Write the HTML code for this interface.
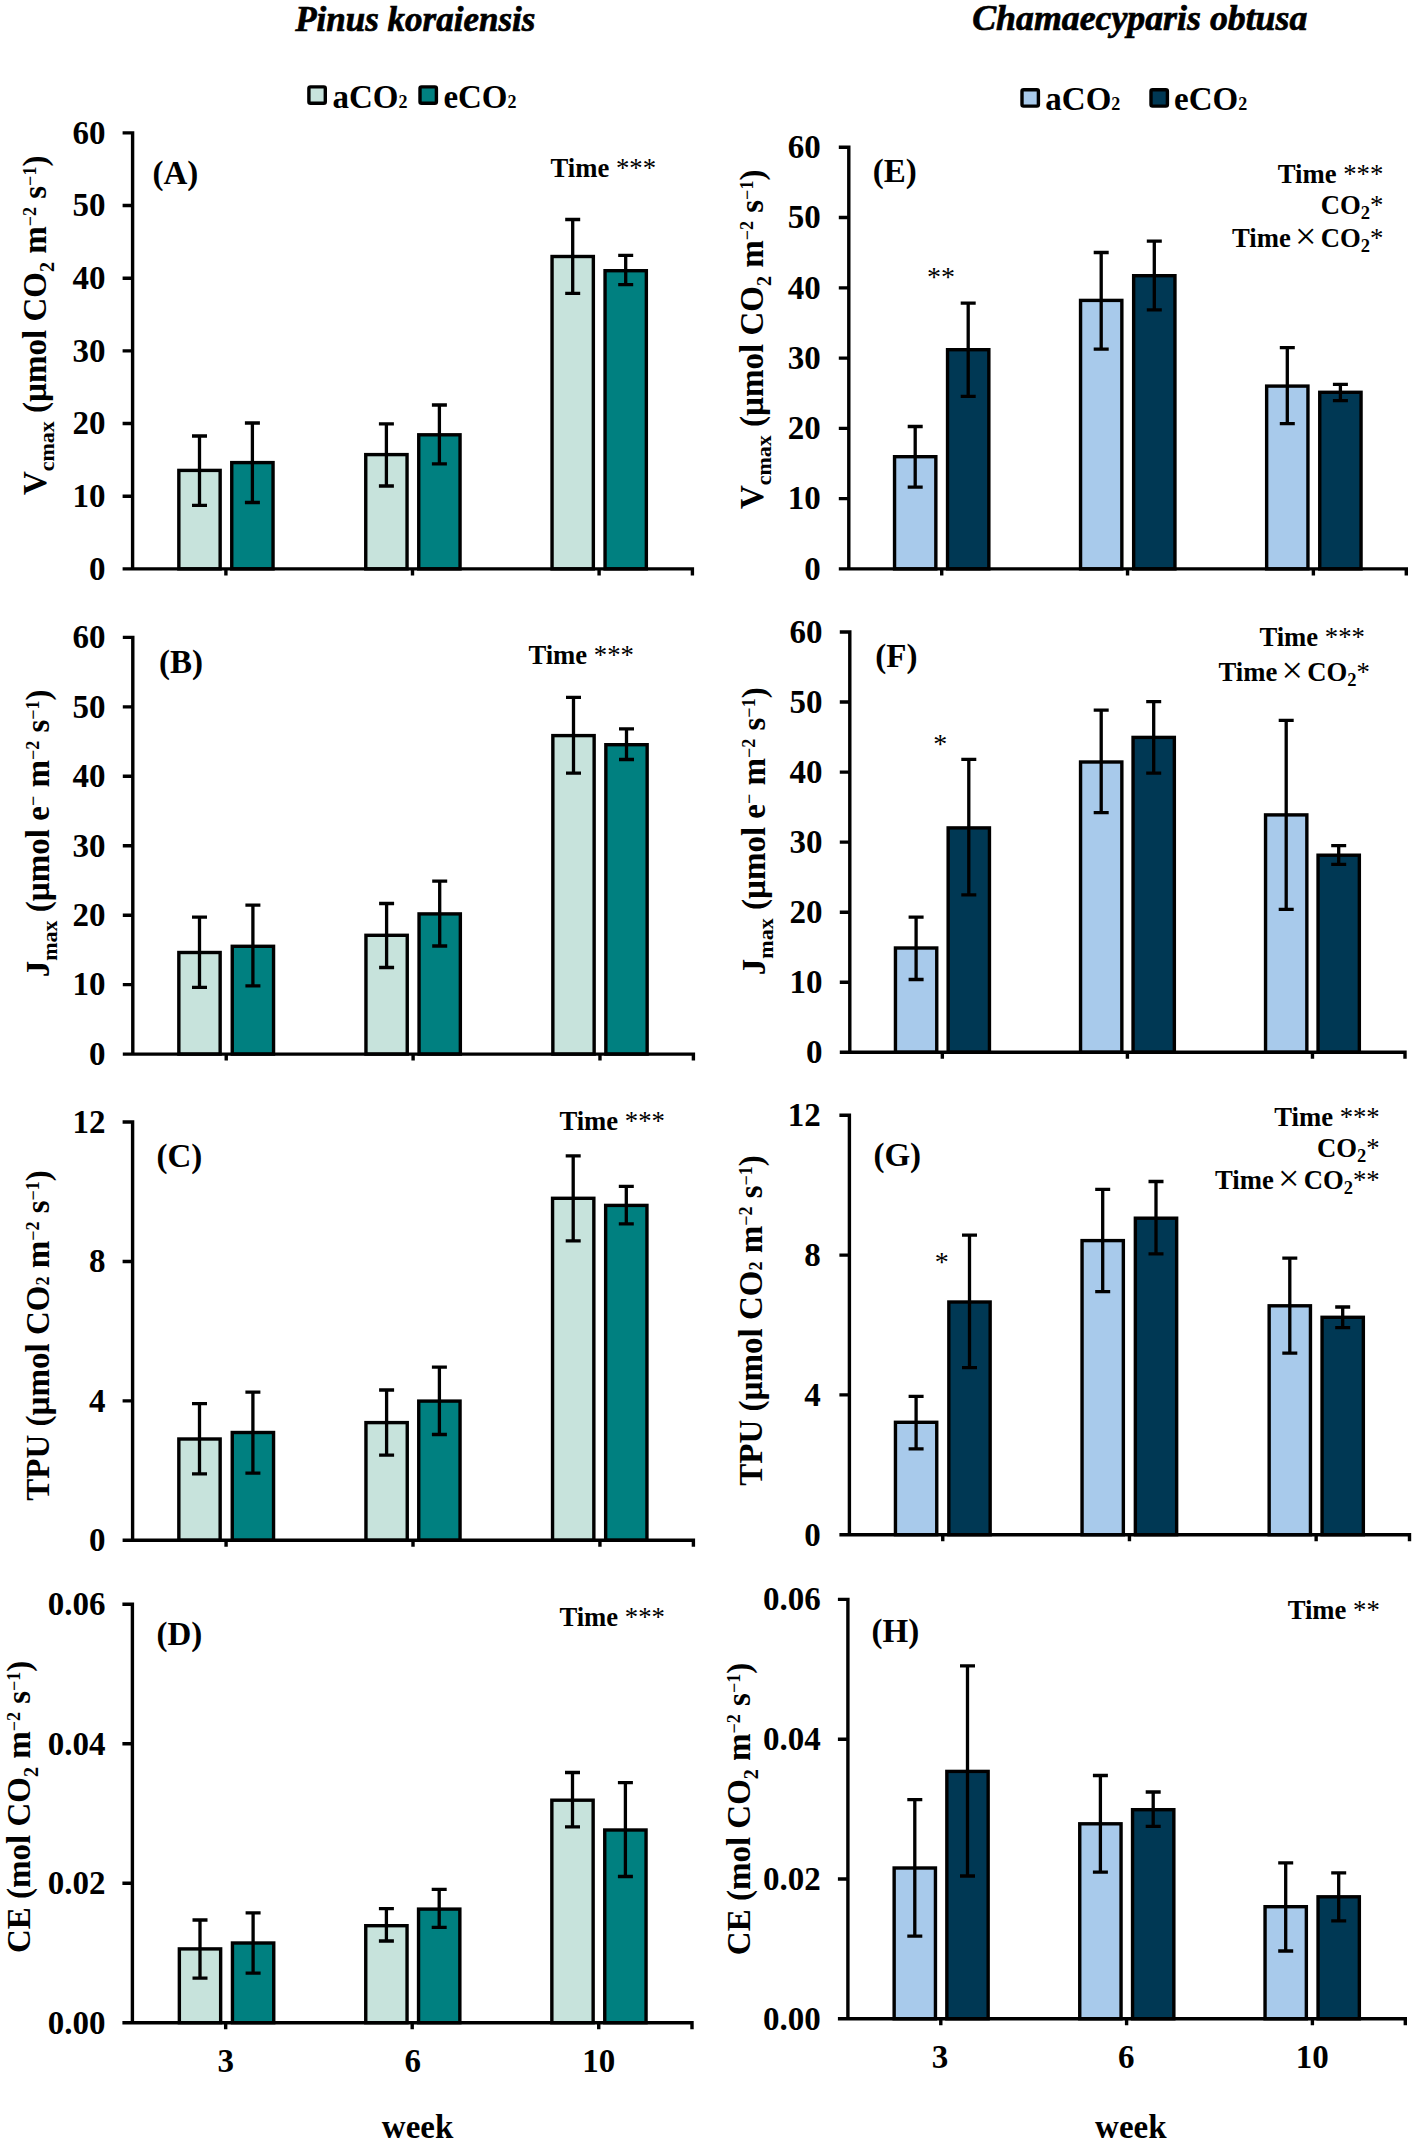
<!DOCTYPE html>
<html><head><meta charset="utf-8">
<style>
html,body{margin:0;padding:0;background:#fff;}
svg{display:block;}
text{font-family:"Liberation Serif", serif;fill:#000;}
.tk{font-size:33px;font-weight:bold;}
.lt{font-size:33px;font-weight:bold;}
.ttl{font-size:35px;font-weight:bold;font-style:italic;stroke:#000;stroke-width:0.7px;}
.leg{font-size:33px;font-weight:bold;}
.yl{font-size:33px;font-weight:bold;}
.sg{font-size:26.7px;font-weight:bold;}
.ast{font-weight:normal;}
.bst{font-size:28px;font-weight:normal;}
</style></head><body>
<svg width="1417" height="2144" viewBox="0 0 1417 2144">
<rect width="1417" height="2144" fill="#fff"/>
<rect x="178.85" y="470.4" width="41.3" height="98.5" fill="#c7e3dc" stroke="#000" stroke-width="3.4"/>
<rect x="231.75" y="462.6" width="41.3" height="106.3" fill="#008080" stroke="#000" stroke-width="3.4"/>
<rect x="365.75" y="454.6" width="41.3" height="114.3" fill="#c7e3dc" stroke="#000" stroke-width="3.4"/>
<rect x="418.75" y="434.8" width="41.3" height="134.1" fill="#008080" stroke="#000" stroke-width="3.4"/>
<rect x="552.05" y="256.5" width="41.3" height="312.4" fill="#c7e3dc" stroke="#000" stroke-width="3.4"/>
<rect x="605.05" y="270.7" width="41.3" height="298.2" fill="#008080" stroke="#000" stroke-width="3.4"/>
<path d="M199.5 436V505.3M192 436H207M192 505.3H207" stroke="#000" stroke-width="3.3" fill="none"/>
<path d="M252.4 423V502.5M244.9 423H259.9M244.9 502.5H259.9" stroke="#000" stroke-width="3.3" fill="none"/>
<path d="M386.4 423.8V486M378.9 423.8H393.9M378.9 486H393.9" stroke="#000" stroke-width="3.3" fill="none"/>
<path d="M439.4 405V463.8M431.9 405H446.9M431.9 463.8H446.9" stroke="#000" stroke-width="3.3" fill="none"/>
<path d="M572.7 219.5V293.4M565.2 219.5H580.2M565.2 293.4H580.2" stroke="#000" stroke-width="3.3" fill="none"/>
<path d="M625.7 255.3V284.7M618.2 255.3H633.2M618.2 284.7H633.2" stroke="#000" stroke-width="3.3" fill="none"/>
<path d="M132.6 131.2V568.9M122.6 568.9H694.1M122.6 132.9H132.6M122.6 205.57H132.6M122.6 278.23H132.6M122.6 350.9H132.6M122.6 423.57H132.6M122.6 496.23H132.6M122.6 568.9H132.6M225.9 568.9V575.4M412.5 568.9V575.4M599.1 568.9V575.4M692.4 568.9V575.4" stroke="#000" stroke-width="3.4" fill="none"/>
<text x="105.4" y="579.7" text-anchor="end" class="tk">0</text>
<text x="105.4" y="507.03" text-anchor="end" class="tk">10</text>
<text x="105.4" y="434.37" text-anchor="end" class="tk">20</text>
<text x="105.4" y="361.7" text-anchor="end" class="tk">30</text>
<text x="105.4" y="289.03" text-anchor="end" class="tk">40</text>
<text x="105.4" y="216.37" text-anchor="end" class="tk">50</text>
<text x="105.4" y="143.7" text-anchor="end" class="tk">60</text>
<text x="152.4" y="183.7" class="lt">(A)</text>
<rect x="178.85" y="952.5" width="41.3" height="101.6" fill="#c7e3dc" stroke="#000" stroke-width="3.4"/>
<rect x="232.25" y="946.3" width="41.3" height="107.8" fill="#008080" stroke="#000" stroke-width="3.4"/>
<rect x="365.95" y="935.3" width="41.3" height="118.8" fill="#c7e3dc" stroke="#000" stroke-width="3.4"/>
<rect x="419.05" y="913.9" width="41.3" height="140.2" fill="#008080" stroke="#000" stroke-width="3.4"/>
<rect x="552.85" y="735.6" width="41.3" height="318.5" fill="#c7e3dc" stroke="#000" stroke-width="3.4"/>
<rect x="605.85" y="744.7" width="41.3" height="309.4" fill="#008080" stroke="#000" stroke-width="3.4"/>
<path d="M199.5 917.2V987.4M192 917.2H207M192 987.4H207" stroke="#000" stroke-width="3.3" fill="none"/>
<path d="M252.9 905.1V985.9M245.4 905.1H260.4M245.4 985.9H260.4" stroke="#000" stroke-width="3.3" fill="none"/>
<path d="M386.6 903.5V967.5M379.1 903.5H394.1M379.1 967.5H394.1" stroke="#000" stroke-width="3.3" fill="none"/>
<path d="M439.7 881.2V946M432.2 881.2H447.2M432.2 946H447.2" stroke="#000" stroke-width="3.3" fill="none"/>
<path d="M573.5 697.3V773.2M566 697.3H581M566 773.2H581" stroke="#000" stroke-width="3.3" fill="none"/>
<path d="M626.5 728.9V759.5M619 728.9H634M619 759.5H634" stroke="#000" stroke-width="3.3" fill="none"/>
<path d="M132.8 635.7V1054.1M122.8 1054.1H695.1M122.8 637.4H132.8M122.8 706.85H132.8M122.8 776.3H132.8M122.8 845.75H132.8M122.8 915.2H132.8M122.8 984.65H132.8M122.8 1054.1H132.8M226.23 1054.1V1060.6M413.1 1054.1V1060.6M599.97 1054.1V1060.6M693.4 1054.1V1060.6" stroke="#000" stroke-width="3.4" fill="none"/>
<text x="105.6" y="1064.9" text-anchor="end" class="tk">0</text>
<text x="105.6" y="995.45" text-anchor="end" class="tk">10</text>
<text x="105.6" y="926" text-anchor="end" class="tk">20</text>
<text x="105.6" y="856.55" text-anchor="end" class="tk">30</text>
<text x="105.6" y="787.1" text-anchor="end" class="tk">40</text>
<text x="105.6" y="717.65" text-anchor="end" class="tk">50</text>
<text x="105.6" y="648.2" text-anchor="end" class="tk">60</text>
<text x="159" y="672.6" class="lt">(B)</text>
<rect x="178.85" y="1439" width="41.3" height="101.3" fill="#c7e3dc" stroke="#000" stroke-width="3.4"/>
<rect x="232.25" y="1432.5" width="41.3" height="107.8" fill="#008080" stroke="#000" stroke-width="3.4"/>
<rect x="365.95" y="1422.6" width="41.3" height="117.7" fill="#c7e3dc" stroke="#000" stroke-width="3.4"/>
<rect x="418.75" y="1401.1" width="41.3" height="139.2" fill="#008080" stroke="#000" stroke-width="3.4"/>
<rect x="552.55" y="1198.3" width="41.3" height="342" fill="#c7e3dc" stroke="#000" stroke-width="3.4"/>
<rect x="605.65" y="1205.4" width="41.3" height="334.9" fill="#008080" stroke="#000" stroke-width="3.4"/>
<path d="M199.5 1403.6V1473.8M192 1403.6H207M192 1473.8H207" stroke="#000" stroke-width="3.3" fill="none"/>
<path d="M252.9 1392.2V1473.1M245.4 1392.2H260.4M245.4 1473.1H260.4" stroke="#000" stroke-width="3.3" fill="none"/>
<path d="M386.6 1390V1455.2M379.1 1390H394.1M379.1 1455.2H394.1" stroke="#000" stroke-width="3.3" fill="none"/>
<path d="M439.4 1367.1V1434.5M431.9 1367.1H446.9M431.9 1434.5H446.9" stroke="#000" stroke-width="3.3" fill="none"/>
<path d="M573.2 1155.8V1240.8M565.7 1155.8H580.7M565.7 1240.8H580.7" stroke="#000" stroke-width="3.3" fill="none"/>
<path d="M626.3 1186.4V1223.8M618.8 1186.4H633.8M618.8 1223.8H633.8" stroke="#000" stroke-width="3.3" fill="none"/>
<path d="M132.6 1120.3V1540.3M122.6 1540.3H695.1M122.6 1122H132.6M122.6 1261.43H132.6M122.6 1400.87H132.6M122.6 1540.3H132.6M226.07 1540.3V1546.8M413 1540.3V1546.8M599.93 1540.3V1546.8M693.4 1540.3V1546.8" stroke="#000" stroke-width="3.4" fill="none"/>
<text x="105.4" y="1551.1" text-anchor="end" class="tk">0</text>
<text x="105.4" y="1411.67" text-anchor="end" class="tk">4</text>
<text x="105.4" y="1272.23" text-anchor="end" class="tk">8</text>
<text x="105.4" y="1132.8" text-anchor="end" class="tk">12</text>
<text x="156.4" y="1166.7" class="lt">(C)</text>
<rect x="179.35" y="1948.9" width="41.3" height="73.8" fill="#c7e3dc" stroke="#000" stroke-width="3.4"/>
<rect x="232.45" y="1943" width="41.3" height="79.7" fill="#008080" stroke="#000" stroke-width="3.4"/>
<rect x="365.75" y="1925.7" width="41.3" height="97" fill="#c7e3dc" stroke="#000" stroke-width="3.4"/>
<rect x="418.55" y="1909.1" width="41.3" height="113.6" fill="#008080" stroke="#000" stroke-width="3.4"/>
<rect x="551.85" y="1800.2" width="41.3" height="222.5" fill="#c7e3dc" stroke="#000" stroke-width="3.4"/>
<rect x="604.75" y="1830" width="41.3" height="192.7" fill="#008080" stroke="#000" stroke-width="3.4"/>
<path d="M200 1920V1978.1M192.5 1920H207.5M192.5 1978.1H207.5" stroke="#000" stroke-width="3.3" fill="none"/>
<path d="M253.1 1912.9V1973.1M245.6 1912.9H260.6M245.6 1973.1H260.6" stroke="#000" stroke-width="3.3" fill="none"/>
<path d="M386.4 1908.6V1941M378.9 1908.6H393.9M378.9 1941H393.9" stroke="#000" stroke-width="3.3" fill="none"/>
<path d="M439.2 1889.3V1927.4M431.7 1889.3H446.7M431.7 1927.4H446.7" stroke="#000" stroke-width="3.3" fill="none"/>
<path d="M572.5 1772.5V1826.9M565 1772.5H580M565 1826.9H580" stroke="#000" stroke-width="3.3" fill="none"/>
<path d="M625.4 1782.6V1876.5M617.9 1782.6H632.9M617.9 1876.5H632.9" stroke="#000" stroke-width="3.3" fill="none"/>
<path d="M132.4 1602.5V2022.7M122.4 2022.7H693.7M122.4 1604.2H132.4M122.4 1743.7H132.4M122.4 1883.2H132.4M122.4 2022.7H132.4M225.67 2022.7V2029.2M412.2 2022.7V2029.2M598.73 2022.7V2029.2M692 2022.7V2029.2" stroke="#000" stroke-width="3.4" fill="none"/>
<text x="105.6" y="2033.5" text-anchor="end" class="tk">0.00</text>
<text x="105.6" y="1894" text-anchor="end" class="tk">0.02</text>
<text x="105.6" y="1754.5" text-anchor="end" class="tk">0.04</text>
<text x="105.6" y="1615" text-anchor="end" class="tk">0.06</text>
<text x="156.4" y="1645" class="lt">(D)</text>
<rect x="894.55" y="456.7" width="41.3" height="112.2" fill="#a8caeb" stroke="#000" stroke-width="3.4"/>
<rect x="947.55" y="349.7" width="41.3" height="219.2" fill="#003854" stroke="#000" stroke-width="3.4"/>
<rect x="1080.55" y="300.4" width="41.3" height="268.5" fill="#a8caeb" stroke="#000" stroke-width="3.4"/>
<rect x="1133.65" y="275.7" width="41.3" height="293.2" fill="#003854" stroke="#000" stroke-width="3.4"/>
<rect x="1266.65" y="386.1" width="41.3" height="182.8" fill="#a8caeb" stroke="#000" stroke-width="3.4"/>
<rect x="1319.75" y="392.3" width="41.3" height="176.6" fill="#003854" stroke="#000" stroke-width="3.4"/>
<path d="M915.2 426.5V487.2M907.7 426.5H922.7M907.7 487.2H922.7" stroke="#000" stroke-width="3.3" fill="none"/>
<path d="M968.2 303.1V396.3M960.7 303.1H975.7M960.7 396.3H975.7" stroke="#000" stroke-width="3.3" fill="none"/>
<path d="M1101.2 252.5V349.1M1093.7 252.5H1108.7M1093.7 349.1H1108.7" stroke="#000" stroke-width="3.3" fill="none"/>
<path d="M1154.3 241.1V309.8M1146.8 241.1H1161.8M1146.8 309.8H1161.8" stroke="#000" stroke-width="3.3" fill="none"/>
<path d="M1287.3 347.7V423.7M1279.8 347.7H1294.8M1279.8 423.7H1294.8" stroke="#000" stroke-width="3.3" fill="none"/>
<path d="M1340.4 384.4V400.7M1332.9 384.4H1347.9M1332.9 400.7H1347.9" stroke="#000" stroke-width="3.3" fill="none"/>
<path d="M848.8 145.6V568.9M838.8 568.9H1408M838.8 147.3H848.8M838.8 217.57H848.8M838.8 287.83H848.8M838.8 358.1H848.8M838.8 428.37H848.8M838.8 498.63H848.8M838.8 568.9H848.8M941.72 568.9V575.4M1127.55 568.9V575.4M1313.38 568.9V575.4M1406.3 568.9V575.4" stroke="#000" stroke-width="3.4" fill="none"/>
<text x="820.8" y="579.7" text-anchor="end" class="tk">0</text>
<text x="820.8" y="509.43" text-anchor="end" class="tk">10</text>
<text x="820.8" y="439.17" text-anchor="end" class="tk">20</text>
<text x="820.8" y="368.9" text-anchor="end" class="tk">30</text>
<text x="820.8" y="298.63" text-anchor="end" class="tk">40</text>
<text x="820.8" y="228.37" text-anchor="end" class="tk">50</text>
<text x="820.8" y="158.1" text-anchor="end" class="tk">60</text>
<text x="872.8" y="182.2" class="lt">(E)</text>
<rect x="895.45" y="948" width="41.3" height="104.3" fill="#a8caeb" stroke="#000" stroke-width="3.4"/>
<rect x="948.15" y="827.9" width="41.3" height="224.4" fill="#003854" stroke="#000" stroke-width="3.4"/>
<rect x="1080.55" y="762" width="41.3" height="290.3" fill="#a8caeb" stroke="#000" stroke-width="3.4"/>
<rect x="1133.05" y="737.4" width="41.3" height="314.9" fill="#003854" stroke="#000" stroke-width="3.4"/>
<rect x="1265.55" y="814.9" width="41.3" height="237.4" fill="#a8caeb" stroke="#000" stroke-width="3.4"/>
<rect x="1318.05" y="855.2" width="41.3" height="197.1" fill="#003854" stroke="#000" stroke-width="3.4"/>
<path d="M916.1 917.1V979.5M908.6 917.1H923.6M908.6 979.5H923.6" stroke="#000" stroke-width="3.3" fill="none"/>
<path d="M968.8 759.4V894.9M961.3 759.4H976.3M961.3 894.9H976.3" stroke="#000" stroke-width="3.3" fill="none"/>
<path d="M1101.2 710.1V812.6M1093.7 710.1H1108.7M1093.7 812.6H1108.7" stroke="#000" stroke-width="3.3" fill="none"/>
<path d="M1153.7 701.6V773.1M1146.2 701.6H1161.2M1146.2 773.1H1161.2" stroke="#000" stroke-width="3.3" fill="none"/>
<path d="M1286.2 720.3V909.4M1278.7 720.3H1293.7M1278.7 909.4H1293.7" stroke="#000" stroke-width="3.3" fill="none"/>
<path d="M1338.7 845.6V864.3M1331.2 845.6H1346.2M1331.2 864.3H1346.2" stroke="#000" stroke-width="3.3" fill="none"/>
<path d="M849.8 630.3V1052.3M839.8 1052.3H1406.7M839.8 632H849.8M839.8 702.05H849.8M839.8 772.1H849.8M839.8 842.15H849.8M839.8 912.2H849.8M839.8 982.25H849.8M839.8 1052.3H849.8M942.33 1052.3V1058.8M1127.4 1052.3V1058.8M1312.47 1052.3V1058.8M1405 1052.3V1058.8" stroke="#000" stroke-width="3.4" fill="none"/>
<text x="822.6" y="1063.1" text-anchor="end" class="tk">0</text>
<text x="822.6" y="993.05" text-anchor="end" class="tk">10</text>
<text x="822.6" y="923" text-anchor="end" class="tk">20</text>
<text x="822.6" y="852.95" text-anchor="end" class="tk">30</text>
<text x="822.6" y="782.9" text-anchor="end" class="tk">40</text>
<text x="822.6" y="712.85" text-anchor="end" class="tk">50</text>
<text x="822.6" y="642.8" text-anchor="end" class="tk">60</text>
<text x="875.3" y="667.3" class="lt">(F)</text>
<rect x="895.45" y="1422.3" width="41.3" height="112.4" fill="#a8caeb" stroke="#000" stroke-width="3.4"/>
<rect x="948.85" y="1302" width="41.3" height="232.7" fill="#003854" stroke="#000" stroke-width="3.4"/>
<rect x="1082.05" y="1240.6" width="41.3" height="294.1" fill="#a8caeb" stroke="#000" stroke-width="3.4"/>
<rect x="1135.35" y="1218.2" width="41.3" height="316.5" fill="#003854" stroke="#000" stroke-width="3.4"/>
<rect x="1269.15" y="1305.8" width="41.3" height="228.9" fill="#a8caeb" stroke="#000" stroke-width="3.4"/>
<rect x="1322.05" y="1317.3" width="41.3" height="217.4" fill="#003854" stroke="#000" stroke-width="3.4"/>
<path d="M916.1 1396.3V1448.8M908.6 1396.3H923.6M908.6 1448.8H923.6" stroke="#000" stroke-width="3.3" fill="none"/>
<path d="M969.5 1235.2V1367.7M962 1235.2H977M962 1367.7H977" stroke="#000" stroke-width="3.3" fill="none"/>
<path d="M1102.7 1189.4V1291.7M1095.2 1189.4H1110.2M1095.2 1291.7H1110.2" stroke="#000" stroke-width="3.3" fill="none"/>
<path d="M1156 1181.5V1253.9M1148.5 1181.5H1163.5M1148.5 1253.9H1163.5" stroke="#000" stroke-width="3.3" fill="none"/>
<path d="M1289.8 1258.2V1353.2M1282.3 1258.2H1297.3M1282.3 1353.2H1297.3" stroke="#000" stroke-width="3.3" fill="none"/>
<path d="M1342.7 1307V1327.6M1335.2 1307H1350.2M1335.2 1327.6H1350.2" stroke="#000" stroke-width="3.3" fill="none"/>
<path d="M849.4 1113.6V1534.7M839.4 1534.7H1411.2M839.4 1115.3H849.4M839.4 1255.1H849.4M839.4 1394.9H849.4M839.4 1534.7H849.4M942.75 1534.7V1541.2M1129.45 1534.7V1541.2M1316.15 1534.7V1541.2M1409.5 1534.7V1541.2" stroke="#000" stroke-width="3.4" fill="none"/>
<text x="820.8" y="1545.5" text-anchor="end" class="tk">0</text>
<text x="820.8" y="1405.7" text-anchor="end" class="tk">4</text>
<text x="820.8" y="1265.9" text-anchor="end" class="tk">8</text>
<text x="820.8" y="1126.1" text-anchor="end" class="tk">12</text>
<text x="873.4" y="1166.4" class="lt">(G)</text>
<rect x="894.15" y="1868" width="41.3" height="150.8" fill="#a8caeb" stroke="#000" stroke-width="3.4"/>
<rect x="946.85" y="1771.4" width="41.3" height="247.4" fill="#003854" stroke="#000" stroke-width="3.4"/>
<rect x="1079.75" y="1823.8" width="41.3" height="195" fill="#a8caeb" stroke="#000" stroke-width="3.4"/>
<rect x="1132.55" y="1809.7" width="41.3" height="209.1" fill="#003854" stroke="#000" stroke-width="3.4"/>
<rect x="1265.05" y="1906.7" width="41.3" height="112.1" fill="#a8caeb" stroke="#000" stroke-width="3.4"/>
<rect x="1318.05" y="1896.8" width="41.3" height="122" fill="#003854" stroke="#000" stroke-width="3.4"/>
<path d="M914.8 1799.7V1936.1M907.3 1799.7H922.3M907.3 1936.1H922.3" stroke="#000" stroke-width="3.3" fill="none"/>
<path d="M967.5 1665.8V1876M960 1665.8H975M960 1876H975" stroke="#000" stroke-width="3.3" fill="none"/>
<path d="M1100.4 1775.5V1872.1M1092.9 1775.5H1107.9M1092.9 1872.1H1107.9" stroke="#000" stroke-width="3.3" fill="none"/>
<path d="M1153.2 1792V1826.3M1145.7 1792H1160.7M1145.7 1826.3H1160.7" stroke="#000" stroke-width="3.3" fill="none"/>
<path d="M1285.7 1862.9V1951M1278.2 1862.9H1293.2M1278.2 1951H1293.2" stroke="#000" stroke-width="3.3" fill="none"/>
<path d="M1338.7 1872.8V1920.8M1331.2 1872.8H1346.2M1331.2 1920.8H1346.2" stroke="#000" stroke-width="3.3" fill="none"/>
<path d="M847.9 1597.7V2018.8M837.9 2018.8H1407M837.9 1599.4H847.9M837.9 1739.2H847.9M837.9 1879H847.9M837.9 2018.8H847.9M940.8 2018.8V2025.3M1126.6 2018.8V2025.3M1312.4 2018.8V2025.3M1405.3 2018.8V2025.3" stroke="#000" stroke-width="3.4" fill="none"/>
<text x="820.8" y="2029.6" text-anchor="end" class="tk">0.00</text>
<text x="820.8" y="1889.8" text-anchor="end" class="tk">0.02</text>
<text x="820.8" y="1750" text-anchor="end" class="tk">0.04</text>
<text x="820.8" y="1610.2" text-anchor="end" class="tk">0.06</text>
<text x="871.5" y="1642" class="lt">(H)</text>
<text x="415.3" y="30.6" text-anchor="middle" class="ttl">Pinus koraiensis</text>
<text x="1139.8" y="30" text-anchor="middle" class="ttl" style="font-size:35.8px">Chamaecyparis obtusa</text>
<rect x="308.9" y="86.9" width="16.4" height="16.4" rx="1.6" fill="#c7e3dc" stroke="#000" stroke-width="3.4"/>
<rect x="420" y="86.9" width="16.4" height="16.4" rx="1.6" fill="#008080" stroke="#000" stroke-width="3.4"/>
<text x="332.5" y="107.7" class="leg">aCO<tspan font-size="18">2</tspan></text>
<text x="443.4" y="107.7" class="leg">eCO<tspan font-size="18">2</tspan></text>
<rect x="1022" y="89.7" width="16.4" height="16.4" rx="1.6" fill="#a8caeb" stroke="#000" stroke-width="3.4"/>
<rect x="1151" y="89.7" width="16.4" height="16.4" rx="1.6" fill="#003854" stroke="#000" stroke-width="3.4"/>
<text x="1045.3" y="110" class="leg">aCO<tspan font-size="18">2</tspan></text>
<text x="1174.1" y="110" class="leg">eCO<tspan font-size="18">2</tspan></text>
<text transform="translate(46.4 325.35) rotate(-90)" x="0" y="0" text-anchor="middle" class="yl" letter-spacing="0">V<tspan baseline-shift="-8" font-size="22">cmax</tspan><tspan> (µmol CO</tspan><tspan baseline-shift="-7.5" font-size="20">2</tspan><tspan> m</tspan><tspan baseline-shift="10.5" font-size="18">−2</tspan><tspan> s</tspan><tspan baseline-shift="10.5" font-size="18">−1</tspan><tspan>)</tspan></text>
<text transform="translate(48.6 833.35) rotate(-90)" x="0" y="0" text-anchor="middle" class="yl" letter-spacing="0">J<tspan baseline-shift="-8" font-size="22">max</tspan><tspan> (µmol e</tspan><tspan baseline-shift="10.5" font-size="18">−</tspan><tspan> m</tspan><tspan baseline-shift="10.5" font-size="18">−2</tspan><tspan> s</tspan><tspan baseline-shift="10.5" font-size="18">−1</tspan><tspan>)</tspan></text>
<text transform="translate(48.6 1335.4) rotate(-90)" x="0" y="0" text-anchor="middle" class="yl" letter-spacing="0">TPU (µmol CO<tspan font-size="18">2</tspan><tspan> m</tspan><tspan baseline-shift="10.5" font-size="18">−2</tspan><tspan> s</tspan><tspan baseline-shift="10.5" font-size="18">−1</tspan><tspan>)</tspan></text>
<text transform="translate(29.7 1806.9) rotate(-90)" x="0" y="0" text-anchor="middle" class="yl" letter-spacing="0">CE (mol CO<tspan baseline-shift="-7.5" font-size="20">2</tspan><tspan> m</tspan><tspan baseline-shift="10.5" font-size="18">−2</tspan><tspan> s</tspan><tspan baseline-shift="10.5" font-size="18">−1</tspan><tspan>)</tspan></text>
<text transform="translate(763 339.35) rotate(-90)" x="0" y="0" text-anchor="middle" class="yl" letter-spacing="0">V<tspan baseline-shift="-8" font-size="22">cmax</tspan><tspan> (µmol CO</tspan><tspan baseline-shift="-7.5" font-size="20">2</tspan><tspan> m</tspan><tspan baseline-shift="10.5" font-size="18">−2</tspan><tspan> s</tspan><tspan baseline-shift="10.5" font-size="18">−1</tspan><tspan>)</tspan></text>
<text transform="translate(764.8 831.25) rotate(-90)" x="0" y="0" text-anchor="middle" class="yl" letter-spacing="0">J<tspan baseline-shift="-8" font-size="22">max</tspan><tspan> (µmol e</tspan><tspan baseline-shift="10.5" font-size="18">−</tspan><tspan> m</tspan><tspan baseline-shift="10.5" font-size="18">−2</tspan><tspan> s</tspan><tspan baseline-shift="10.5" font-size="18">−1</tspan><tspan>)</tspan></text>
<text transform="translate(761.8 1320.5) rotate(-90)" x="0" y="0" text-anchor="middle" class="yl" letter-spacing="0">TPU (µmol CO<tspan font-size="18">2</tspan><tspan> m</tspan><tspan baseline-shift="10.5" font-size="18">−2</tspan><tspan> s</tspan><tspan baseline-shift="10.5" font-size="18">−1</tspan><tspan>)</tspan></text>
<text transform="translate(749.7 1809) rotate(-90)" x="0" y="0" text-anchor="middle" class="yl" letter-spacing="0">CE (mol CO<tspan baseline-shift="-7.5" font-size="20">2</tspan><tspan> m</tspan><tspan baseline-shift="10.5" font-size="18">−2</tspan><tspan> s</tspan><tspan baseline-shift="10.5" font-size="18">−1</tspan><tspan>)</tspan></text>
<text x="656" y="177.3" text-anchor="end" class="sg">Time <tspan class="ast">***</tspan></text>
<text x="633.9" y="663.9" text-anchor="end" class="sg">Time <tspan class="ast">***</tspan></text>
<text x="664.9" y="1129.6" text-anchor="end" class="sg">Time <tspan class="ast">***</tspan></text>
<text x="664.9" y="1626" text-anchor="end" class="sg">Time <tspan class="ast">***</tspan></text>
<text x="1383.3" y="182.7" text-anchor="end" class="sg">Time <tspan class="ast">***</tspan></text>
<text x="1383.3" y="214.2" text-anchor="end" class="sg">CO<tspan baseline-shift="-5" font-size="18.5">2</tspan><tspan class="ast">*</tspan></text>
<text x="1383.3" y="246.7" text-anchor="end" class="sg">Time<tspan style="font-size:17px"> </tspan><tspan class="ast" style="font-size:38px" baseline-shift="-2">×</tspan><tspan style="font-size:17px"> </tspan>CO<tspan baseline-shift="-5" font-size="18.5">2</tspan><tspan class="ast">*</tspan></text>
<text x="1364.9" y="646.3" text-anchor="end" class="sg">Time <tspan class="ast">***</tspan></text>
<text x="1369.9" y="680.6" text-anchor="end" class="sg">Time<tspan style="font-size:17px"> </tspan><tspan class="ast" style="font-size:38px" baseline-shift="-2">×</tspan><tspan style="font-size:17px"> </tspan>CO<tspan baseline-shift="-5" font-size="18.5">2</tspan><tspan class="ast">*</tspan></text>
<text x="1379.7" y="1125.8" text-anchor="end" class="sg">Time <tspan class="ast">***</tspan></text>
<text x="1379.7" y="1157.1" text-anchor="end" class="sg">CO<tspan baseline-shift="-5" font-size="18.5">2</tspan><tspan class="ast">*</tspan></text>
<text x="1379.7" y="1188.9" text-anchor="end" class="sg">Time<tspan style="font-size:17px"> </tspan><tspan class="ast" style="font-size:38px" baseline-shift="-2">×</tspan><tspan style="font-size:17px"> </tspan>CO<tspan baseline-shift="-5" font-size="18.5">2</tspan><tspan class="ast">**</tspan></text>
<text x="1379.8" y="1618.7" text-anchor="end" class="sg">Time <tspan class="ast">**</tspan></text>
<text x="940.9" y="286" text-anchor="middle" class="bst">**</text>
<text x="940.3" y="753" text-anchor="middle" class="bst">*</text>
<text x="941.7" y="1270.5" text-anchor="middle" class="bst">*</text>
<text x="225.8" y="2071.6" text-anchor="middle" class="tk">3</text>
<text x="412.8" y="2071.6" text-anchor="middle" class="tk">6</text>
<text x="598.7" y="2071.6" text-anchor="middle" class="tk">10</text>
<text x="940.1" y="2067.6" text-anchor="middle" class="tk">3</text>
<text x="1126.2" y="2067.6" text-anchor="middle" class="tk">6</text>
<text x="1312.3" y="2067.6" text-anchor="middle" class="tk">10</text>
<text x="417.6" y="2137.7" text-anchor="middle" class="tk">week</text>
<text x="1130.8" y="2137.6" text-anchor="middle" class="tk">week</text>
</svg>
</body></html>
